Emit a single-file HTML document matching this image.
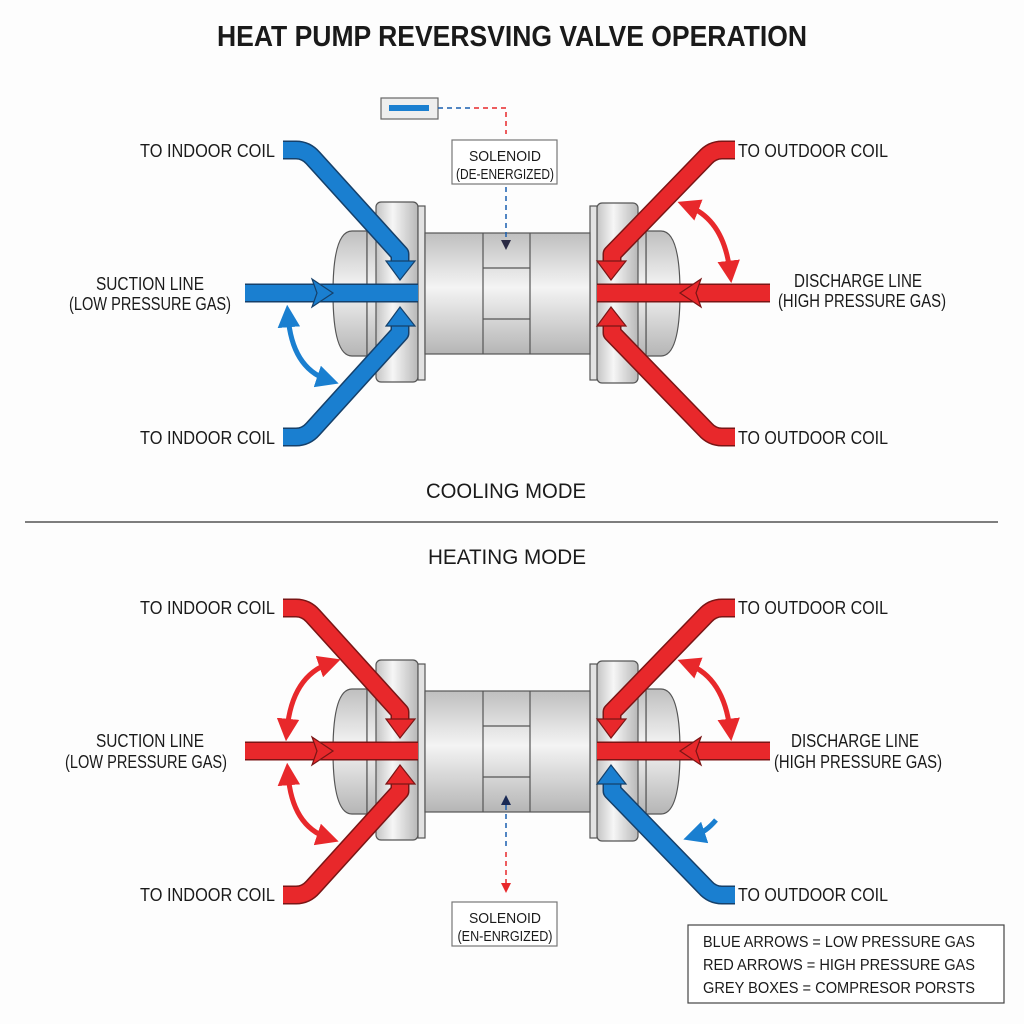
<!DOCTYPE html>
<html><head><meta charset="utf-8"><style>
html,body{margin:0;padding:0;background:#fdfdfd;}
svg{display:block;font-family:"Liberation Sans",sans-serif;}
text{fill:#1a1a1a;}
</style></head><body>
<svg width="1024" height="1024" viewBox="0 0 1024 1024" xmlns="http://www.w3.org/2000/svg">
<defs>
<linearGradient id="gv" x1="0" y1="0" x2="0" y2="1">
<stop offset="0" stop-color="#bfbfbf"/><stop offset="0.45" stop-color="#f4f4f4"/><stop offset="1" stop-color="#b5b5b5"/>
</linearGradient>
<linearGradient id="gh" x1="0" y1="0" x2="1" y2="0">
<stop offset="0" stop-color="#c4c4c4"/><stop offset="0.4" stop-color="#f6f6f6"/><stop offset="1" stop-color="#b8b8b8"/>
</linearGradient>
<marker id="mb" viewBox="0 0 10 10" refX="5" refY="5" markerWidth="4.5" markerHeight="4.5" orient="auto-start-reverse"><path d="M0,0 L10,5 L0,10 z" fill="#1a7fd0"/></marker>
<marker id="mr" viewBox="0 0 10 10" refX="5" refY="5" markerWidth="4.5" markerHeight="4.5" orient="auto-start-reverse"><path d="M0,0 L10,5 L0,10 z" fill="#e8282b"/></marker>
<g id="valve">
  <path d="M367,231 H352 Q333,231 333,293 Q333,356 352,356 H367 Z" fill="url(#gv)" stroke="#555" stroke-width="1.2"/>
  <rect x="367" y="231" width="51" height="125" fill="url(#gv)" stroke="#555" stroke-width="1.2"/>
  <rect x="376" y="202" width="42" height="180" rx="5" fill="url(#gh)" stroke="#555" stroke-width="1.2"/>
  <rect x="418" y="206" width="7" height="174" fill="#e2e2e2" stroke="#555" stroke-width="1.2"/>
  <path d="M646,231 H661 Q680,231 680,293 Q680,356 661,356 H646 Z" fill="url(#gv)" stroke="#555" stroke-width="1.2"/>
  <rect x="597" y="231" width="49" height="125" fill="url(#gv)" stroke="#555" stroke-width="1.2"/>
  <rect x="597" y="203" width="41" height="180" rx="5" fill="url(#gh)" stroke="#555" stroke-width="1.2"/>
  <rect x="590" y="206" width="7" height="174" fill="#e2e2e2" stroke="#555" stroke-width="1.2"/>
  <rect x="425" y="233" width="165" height="121" fill="url(#gv)" stroke="#555" stroke-width="1.2"/>
  <line x1="483" y1="233" x2="483" y2="354" stroke="#555" stroke-width="1.2"/>
  <line x1="530" y1="233" x2="530" y2="354" stroke="#555" stroke-width="1.2"/>
  <line x1="483" y1="268" x2="530" y2="268" stroke="#555" stroke-width="1.2"/>
  <line x1="483" y1="319" x2="530" y2="319" stroke="#555" stroke-width="1.2"/>
</g>
</defs>

<text x="512" y="46" font-size="29" font-weight="bold" text-anchor="middle" textLength="590" lengthAdjust="spacingAndGlyphs">HEAT PUMP REVERSVING VALVE OPERATION</text>

<use href="#valve"/>
<rect x="381" y="98" width="57" height="21" fill="#eee" stroke="#666" stroke-width="1.2"/>
<rect x="389" y="105" width="40" height="6" fill="#1a7fd0"/>
<path d="M438,108 H470" stroke="#1a5fb0" stroke-width="1.5" stroke-dasharray="5,4" fill="none"/>
<path d="M474,108 H506 V134" stroke="#e8282b" stroke-width="1.5" stroke-dasharray="5,4" fill="none"/>
<rect x="452" y="140" width="105" height="44" fill="#fff" stroke="#777" stroke-width="1.2"/>
<text x="505" y="161" font-size="15" text-anchor="middle" textLength="72" lengthAdjust="spacingAndGlyphs">SOLENOID</text>
<text x="505" y="179" font-size="15" text-anchor="middle" textLength="98" lengthAdjust="spacingAndGlyphs">(DE-ENERGIZED)</text>
<path d="M506,187 V240" stroke="#1a5fb0" stroke-width="1.5" stroke-dasharray="5,4"/>
<polygon points="501,240 511,240 506,250" fill="#2a2a44"/>

<g fill="none" stroke-linejoin="round">
<path d="M283,150 H296 Q306,150 313,158 L400,254 V264" stroke="#15406a" stroke-width="19"/>
<path d="M283,150 H296 Q306,150 313,158 L400,254 V264" stroke="#1a7fd0" stroke-width="16"/>
<path d="M283,437 H296 Q306,437 313,429 L400,333 V323" stroke="#15406a" stroke-width="19"/>
<path d="M283,437 H296 Q306,437 313,429 L400,333 V323" stroke="#1a7fd0" stroke-width="16"/>
<path d="M245,293 H418" stroke="#15406a" stroke-width="19"/>
<path d="M245,293 H418" stroke="#1a7fd0" stroke-width="16"/>
</g>
<polygon points="386,261 415,261 400,280" fill="#1a7fd0" stroke="#15406a" stroke-width="1.2"/>
<polygon points="386,326 415,326 400,307" fill="#1a7fd0" stroke="#15406a" stroke-width="1.2"/>
<polygon points="312,279 333,293 312,307 317,293" fill="#1a7fd0" stroke="#15406a" stroke-width="1.2"/>
<path d="M288,316 Q292,368 328,380" fill="none" stroke="#1a7fd0" stroke-width="5" marker-start="url(#mb)" marker-end="url(#mb)"/>

<g fill="none" stroke-linejoin="round">
<path d="M735,150 H722 Q712,150 705,158 L612,254 V264" stroke="#7a1515" stroke-width="19"/>
<path d="M735,150 H722 Q712,150 705,158 L612,254 V264" stroke="#e8282b" stroke-width="16"/>
<path d="M735,437 H722 Q712,437 705,429 L612,333 V323" stroke="#7a1515" stroke-width="19"/>
<path d="M735,437 H722 Q712,437 705,429 L612,333 V323" stroke="#e8282b" stroke-width="16"/>
<path d="M770,293 H597" stroke="#7a1515" stroke-width="19"/>
<path d="M770,293 H597" stroke="#e8282b" stroke-width="16"/>
</g>
<polygon points="597,261 626,261 611,280" fill="#e8282b" stroke="#7a1515" stroke-width="1.2"/>
<polygon points="597,326 626,326 611,307" fill="#e8282b" stroke="#7a1515" stroke-width="1.2"/>
<polygon points="701,279 680,293 701,307 696,293" fill="#e8282b" stroke="#7a1515" stroke-width="1.2"/>
<path d="M688,206 Q724,220 730,272" fill="none" stroke="#e8282b" stroke-width="5" marker-start="url(#mr)" marker-end="url(#mr)"/>

<g font-size="18">
<text x="275" y="157" text-anchor="end" textLength="135" lengthAdjust="spacingAndGlyphs">TO INDOOR COIL</text>
<text x="275" y="444" text-anchor="end" textLength="135" lengthAdjust="spacingAndGlyphs">TO INDOOR COIL</text>
<text x="150" y="290" text-anchor="middle" textLength="108" lengthAdjust="spacingAndGlyphs">SUCTION LINE</text>
<text x="150" y="310" text-anchor="middle" textLength="162" lengthAdjust="spacingAndGlyphs">(LOW PRESSURE GAS)</text>
<text x="738" y="157" textLength="150" lengthAdjust="spacingAndGlyphs">TO OUTDOOR COIL</text>
<text x="738" y="444" textLength="150" lengthAdjust="spacingAndGlyphs">TO OUTDOOR COIL</text>
<text x="858" y="287" text-anchor="middle" textLength="128" lengthAdjust="spacingAndGlyphs">DISCHARGE LINE</text>
<text x="862" y="307" text-anchor="middle" textLength="168" lengthAdjust="spacingAndGlyphs">(HIGH PRESSURE GAS)</text>
</g>
<text x="506" y="498" font-size="21" text-anchor="middle" textLength="160" lengthAdjust="spacingAndGlyphs">COOLING MODE</text>
<line x1="25" y1="522" x2="998" y2="522" stroke="#333" stroke-width="1.2"/>
<text x="507" y="564" font-size="21" text-anchor="middle" textLength="158" lengthAdjust="spacingAndGlyphs">HEATING MODE</text>

<g transform="translate(0,458)">
<use href="#valve"/>
<g fill="none" stroke-linejoin="round">
<path d="M283,150 H296 Q306,150 313,158 L400,254 V264" stroke="#7a1515" stroke-width="19"/>
<path d="M283,150 H296 Q306,150 313,158 L400,254 V264" stroke="#e8282b" stroke-width="16"/>
<path d="M283,437 H296 Q306,437 313,429 L400,333 V323" stroke="#7a1515" stroke-width="19"/>
<path d="M283,437 H296 Q306,437 313,429 L400,333 V323" stroke="#e8282b" stroke-width="16"/>
<path d="M245,293 H418" stroke="#7a1515" stroke-width="19"/>
<path d="M245,293 H418" stroke="#e8282b" stroke-width="16"/>
<path d="M735,150 H722 Q712,150 705,158 L612,254 V264" stroke="#7a1515" stroke-width="19"/>
<path d="M735,150 H722 Q712,150 705,158 L612,254 V264" stroke="#e8282b" stroke-width="16"/>
<path d="M735,437 H722 Q712,437 705,429 L612,333 V323" stroke="#15406a" stroke-width="19"/>
<path d="M735,437 H722 Q712,437 705,429 L612,333 V323" stroke="#1a7fd0" stroke-width="16"/>
<path d="M770,293 H597" stroke="#7a1515" stroke-width="19"/>
<path d="M770,293 H597" stroke="#e8282b" stroke-width="16"/>
</g>
<polygon points="386,261 415,261 400,280" fill="#e8282b" stroke="#7a1515" stroke-width="1.2"/>
<polygon points="386,326 415,326 400,307" fill="#e8282b" stroke="#7a1515" stroke-width="1.2"/>
<polygon points="312,279 333,293 312,307 317,293" fill="#e8282b" stroke="#7a1515" stroke-width="1.2"/>
<polygon points="597,261 626,261 611,280" fill="#e8282b" stroke="#7a1515" stroke-width="1.2"/>
<polygon points="597,326 626,326 611,307" fill="#1a7fd0" stroke="#15406a" stroke-width="1.2"/>
<polygon points="701,279 680,293 701,307 696,293" fill="#e8282b" stroke="#7a1515" stroke-width="1.2"/>
<path d="M330,205 Q292,218 287,272" fill="none" stroke="#e8282b" stroke-width="5" marker-start="url(#mr)" marker-end="url(#mr)"/>
<path d="M288,316 Q292,368 328,380" fill="none" stroke="#e8282b" stroke-width="5" marker-start="url(#mr)" marker-end="url(#mr)"/>
<path d="M688,206 Q724,220 730,272" fill="none" stroke="#e8282b" stroke-width="5" marker-start="url(#mr)" marker-end="url(#mr)"/>
<path d="M716,362 Q706,374 694,378" fill="none" stroke="#1a7fd0" stroke-width="5" marker-end="url(#mb)"/>
</g>
<polygon points="501,805 511,805 506,795" fill="#1a2a55"/>
<path d="M506,805 V850" stroke="#1a5fb0" stroke-width="1.5" stroke-dasharray="5,4"/>
<path d="M506,852 V883" stroke="#e8282b" stroke-width="1.5" stroke-dasharray="5,4"/>
<polygon points="501,883 511,883 506,893" fill="#e8282b"/>
<rect x="452" y="902" width="105" height="44" fill="#fff" stroke="#777" stroke-width="1.2"/>
<text x="505" y="923" font-size="15" text-anchor="middle" textLength="72" lengthAdjust="spacingAndGlyphs">SOLENOID</text>
<text x="505" y="941" font-size="15" text-anchor="middle" textLength="95" lengthAdjust="spacingAndGlyphs">(EN-ENRGIZED)</text>

<g font-size="18">
<text x="275" y="614" text-anchor="end" textLength="135" lengthAdjust="spacingAndGlyphs">TO INDOOR COIL</text>
<text x="275" y="901" text-anchor="end" textLength="135" lengthAdjust="spacingAndGlyphs">TO INDOOR COIL</text>
<text x="150" y="747" text-anchor="middle" textLength="108" lengthAdjust="spacingAndGlyphs">SUCTION LINE</text>
<text x="146" y="768" text-anchor="middle" textLength="162" lengthAdjust="spacingAndGlyphs">(LOW PRESSURE GAS)</text>
<text x="738" y="614" textLength="150" lengthAdjust="spacingAndGlyphs">TO OUTDOOR COIL</text>
<text x="738" y="901" textLength="150" lengthAdjust="spacingAndGlyphs">TO OUTDOOR COIL</text>
<text x="855" y="747" text-anchor="middle" textLength="128" lengthAdjust="spacingAndGlyphs">DISCHARGE LINE</text>
<text x="858" y="768" text-anchor="middle" textLength="168" lengthAdjust="spacingAndGlyphs">(HIGH PRESSURE GAS)</text>
</g>

<rect x="688" y="925" width="316" height="78" fill="#fff" stroke="#444" stroke-width="1.2"/>
<g font-size="16">
<text x="703" y="947" textLength="272" lengthAdjust="spacingAndGlyphs">BLUE ARROWS = LOW PRESSURE GAS</text>
<text x="703" y="970" textLength="272" lengthAdjust="spacingAndGlyphs">RED ARROWS = HIGH PRESSURE GAS</text>
<text x="703" y="993" textLength="272" lengthAdjust="spacingAndGlyphs">GREY BOXES = COMPRESOR PORSTS</text>
</g>
</svg>
</body></html>
